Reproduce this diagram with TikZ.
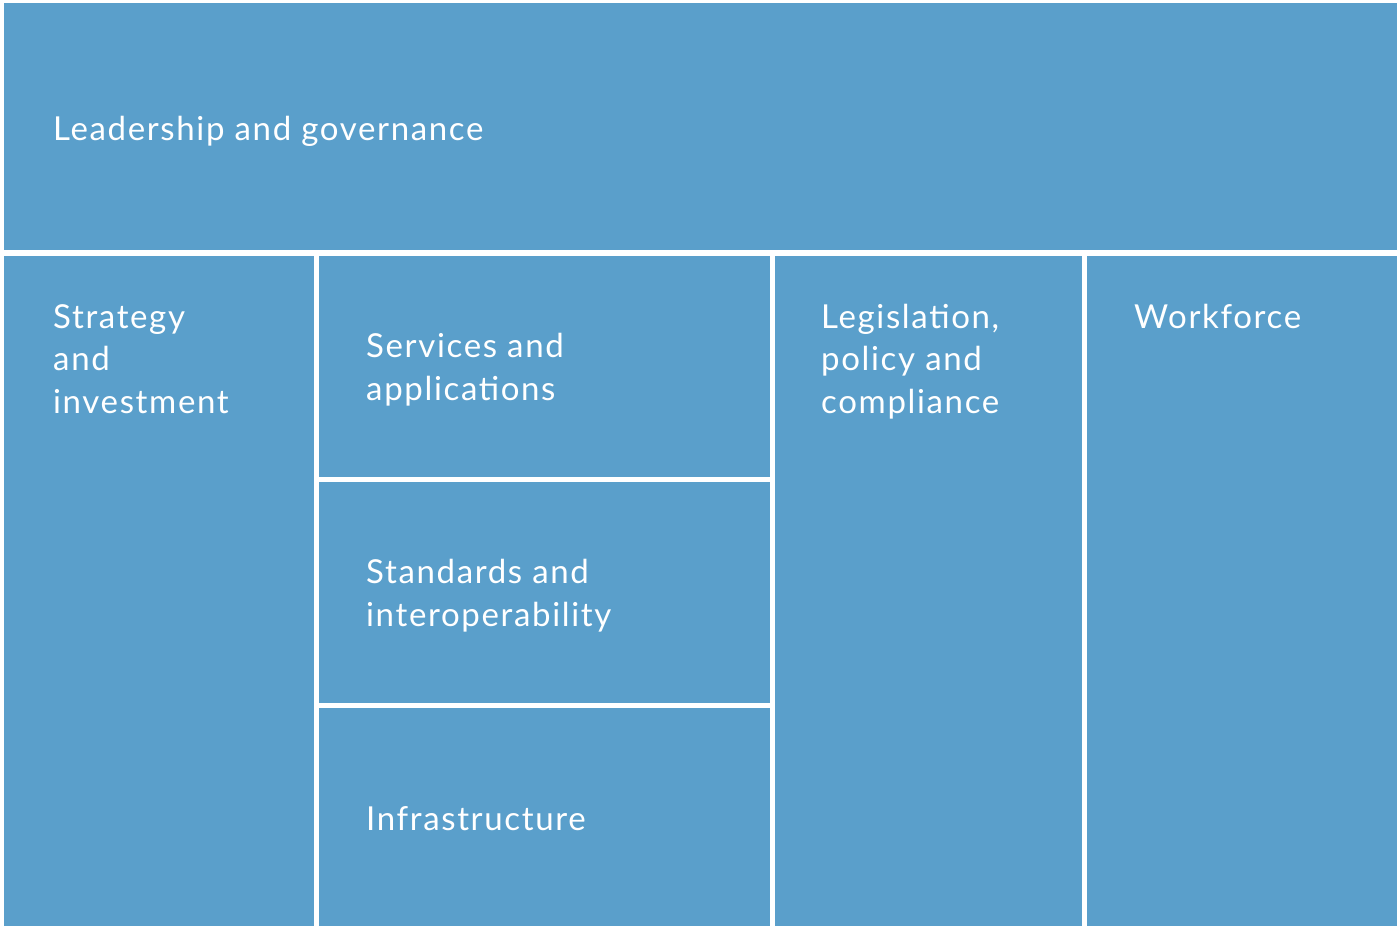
\documentclass[tikz,border=0pt]{standalone}
\usepackage{fontspec}
\setmainfont[LetterSpace=5]{Lato}
\definecolor{tile}{RGB}{90,159,203}
\begin{document}
\begin{tikzpicture}[x=1pt,y=-1pt,
  tilebox/.style={fill=tile,draw=none,inner sep=0pt,outer sep=0pt},
  lbl/.style={text=white,anchor=base west,align=left,inner sep=0pt,
    font=\fontsize{33}{42.5}\selectfont}]
\fill[white] (0,0) rectangle (1397,926);
\useasboundingbox (0,0) rectangle (1397,926);
% tiles
\fill[tilebox] (4,3) rectangle (1397,250);
\fill[tilebox] (4,256) rectangle (314,926);
\fill[tilebox] (319,256) rectangle (770,477);
\fill[tilebox] (319,482) rectangle (770,703);
\fill[tilebox] (319,708) rectangle (770,926);
\fill[tilebox] (775,256) rectangle (1082,926);
\fill[tilebox] (1087,256) rectangle (1397,926);
% labels (anchored at baseline of last line)
\node[lbl] (lg) at (53,140) {Leadership and governance};
\node[lbl] (si) at (53,413) {Strategy\\and\\investment};
\node[lbl] (sa) at (366,400) {Services and\\applications};
\node[lbl] (st) at (366,626) {Standards and\\interoperability};
\node[lbl] (in) at (366,830) {Infrastructure};
\node[lbl] (le) at (821,413) {Legislation,\\policy and\\compliance};
\node[lbl] (wf) at (1134,328) {Workforce};
\end{tikzpicture}
\end{document}
